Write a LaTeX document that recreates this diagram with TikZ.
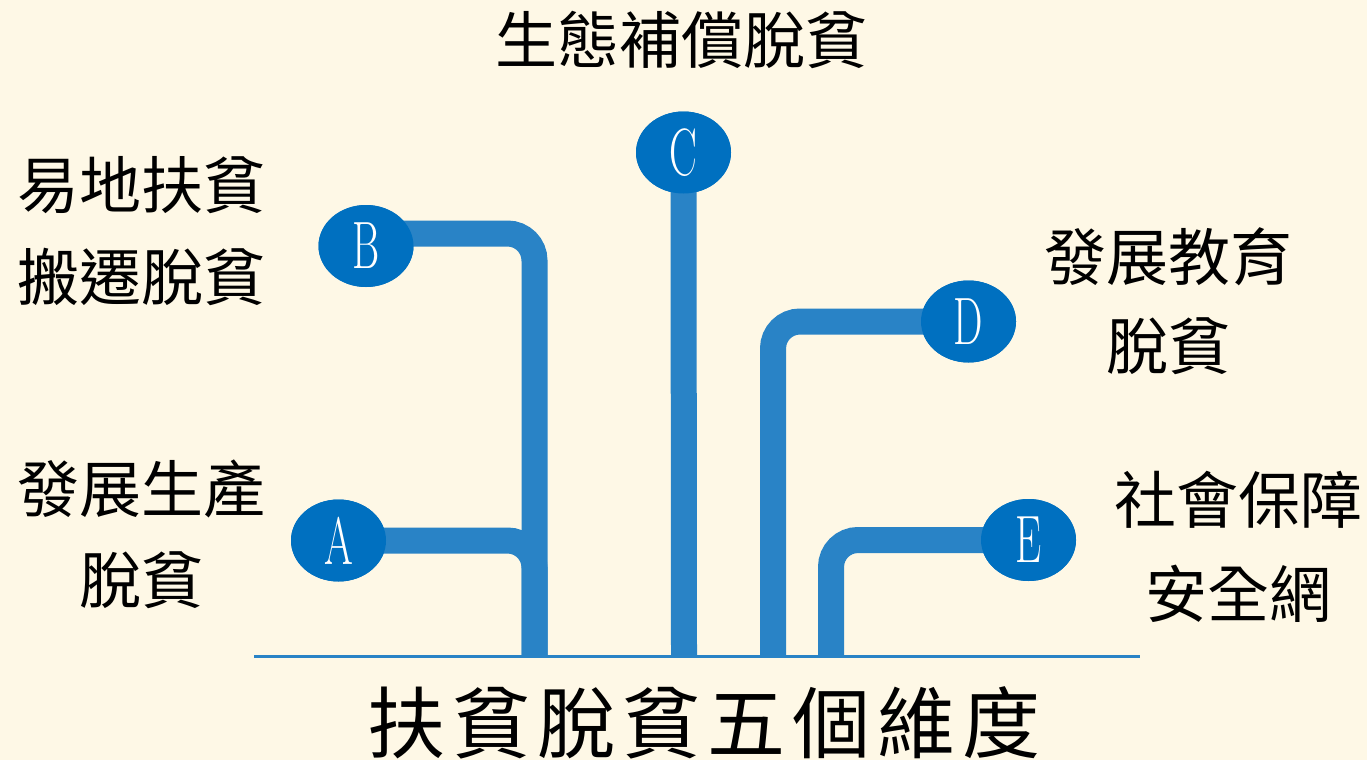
\documentclass[tikz,border=0pt]{standalone}
\usepackage{fontspec}
\usepackage{graphicx}
\usetikzlibrary{shapes.geometric}
\newfontfamily\cjk{Noto Sans CJK TC}
\definecolor{bg}{HTML}{FEF8E6}
\definecolor{linec}{HTML}{2983C6}
\definecolor{dotc}{HTML}{0070C0}
\newcommand{\tk}{\kern7pt}
\begin{document}
\begin{tikzpicture}[x=1pt,y=-1pt,
  branch/.style={draw=linec,line width=26pt,rounded corners=27pt},
  dot/.style={ellipse,fill=dotc,minimum width=95pt,minimum height=82pt,inner sep=0pt,text=white,font=\fontsize{67}{67}\selectfont},
  lab/.style={font=\cjk\fontsize{62}{92}\selectfont,align=center,inner sep=0pt},
  title/.style={font=\cjk\fontsize{78}{78}\selectfont,inner sep=0pt}]
\fill[bg] (0,0) rectangle (1367,760);
\useasboundingbox (0,0) rectangle (1367,760);
% ground coordinates
\coordinate (gl) at (254,656.5);
\coordinate (gr) at (1140,656.5);
\coordinate (bA) at (534.5,655);
\coordinate (bC) at (684,655);
\coordinate (bD) at (773,655);
\coordinate (bE) at (831,655);
% node positions
\path (338.5,540.5) node[dot] (A) {};
\path (366,246) node[dot] (B) {};
\path (683.5,152.5) node[dot] (C) {};
\path (968.5,321.5) node[dot] (D) {};
\path (1028.5,540) node[dot] (E) {};
% branches
\draw[branch] ([yshift=12.5pt]B.center) -| (bA);
\draw[branch] (A.center) -| (bA);
\draw[branch] (C.center) -- (bC);
\draw[branch] (D.center) -| (bD);
\draw[branch] (E.center) -| (bE);
% ground line
\draw[linec,line width=3.5pt] (gl) -- (gr);
% circles on top
\node[dot] at (A) {\scalebox{0.62}[1]{A}};
\node[dot] at (B) {\scalebox{0.62}[1]{B}};
\node[dot] at (C) {\scalebox{0.62}[1]{C}};
\node[dot] at (D) {\scalebox{0.62}[1]{D}};
\node[dot] at (E) {\scalebox{0.62}[1]{E}};
% labels
\node[lab] (tC) at (681.5,40) {生態補償脫貧};
\node[lab] (tB) at (141,231) {易地扶貧\\搬遷脫貧};
\node[lab,font=\cjk\fontsize{62}{91}\selectfont] (tA) at (141,534.5) {發展生產\\脫貧};
\node[lab,font=\cjk\fontsize{62}{89}\selectfont] (tD) at (1168,301.5) {發展教育\\脫貧};
\node[lab,font=\cjk\fontsize{62}{94}\selectfont] (tE) at (1238,546.5) {社會保障\\安全網};
\node[title] (tt) at (704,723) {扶\tk 貧\tk 脫\tk 貧\tk 五\tk 個\tk 維\tk 度};
\end{tikzpicture}
\end{document}
